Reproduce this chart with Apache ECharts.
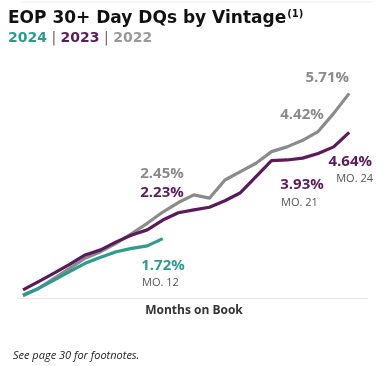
<!DOCTYPE html>
<html><head><meta charset="utf-8">
<script src="https://cdn.jsdelivr.net/npm/echarts@6/dist/echarts.min.js"></script>
<style>html,body{margin:0;padding:0;background:#fff}#c{width:387px;height:366px}</style>
</head><body><div id="c"></div>
<script>
const months = [3,4,5,6,7,8,9,10,11,12,13,14,15,16,17,18,19,20,21,22,23,24];
const v2024 = [0.17,0.35,0.58,0.81,1.04,1.21,1.36,1.45,1.52,1.72];
const v2023 = [0.31,0.54,0.77,1.01,1.27,1.41,1.63,1.82,1.96,2.23,2.43,2.51,2.58,2.76,2.98,3.42,3.86,3.88,3.93,4.06,4.24,4.64];
const v2022 = [0.15,0.35,0.63,0.90,1.18,1.36,1.59,1.86,2.14,2.45,2.71,2.92,2.83,3.33,3.56,3.79,4.11,4.24,4.42,4.66,5.16,5.71];
const vintages = ['2024','2023','2022'];
const colors = {'2024':'#2b9c8d','2023':'#5b1a5c','2022':'#8b8b8b'};
const FONT = 'Open Sans';
const TFONT = 'DejaVu Sans';

const chart = echarts.init(document.getElementById('c'), null, {renderer:'canvas'});
const pct = v => v.toFixed(2) + '%';
function txt(x, y, text, color, size, weight, align, style) {
  return {type:'text', x, y, style:{text, fill:color, font:(style||'normal')+' '+(weight||'normal')+' '+size+'px "'+FONT+'"', textAlign:align||'left', textVerticalAlign:'middle'}};
}
chart.setOption({
  animation:false,
  grid:{left:23, right:37.8, top:82.8, bottom:64.8},
  xAxis:{type:'category', data:months, boundaryGap:false, axisLine:{show:false}, axisTick:{show:false}, axisLabel:{show:false}},
  yAxis:{type:'value', min:0, max:6, show:false, splitLine:{show:false}},
  series:[
    {name:'2022', type:'line', data:v2022, symbol:'none', lineStyle:{color:colors['2022'], width:3.2}, z:2},
    {name:'2023', type:'line', data:v2023, symbol:'none', lineStyle:{color:colors['2023'], width:3.2}, z:3},
    {name:'2024', type:'line', data:v2024, symbol:'none', lineStyle:{color:colors['2024'], width:3.2}, z:4}
  ],
  graphic:[
    {type:'line', shape:{x1:22, y1:2, x2:372, y2:2}, style:{stroke:'#ededed', lineWidth:1}},
    {type:'line', shape:{x1:17, y1:298.5, x2:368, y2:298.5}, style:{stroke:'#e6e6e6', lineWidth:1}},
    {type:'text', x:8, y:19, style:{rich:{a:{font:'bold 17px "'+TFONT+'"', fill:'#111'}, s:{font:'bold 10px "'+TFONT+'"', fill:'#111', padding:[0,0,9,1]}}, text:'{a|EOP 30+ Day DQs by Vintage}{s|(1)}', textVerticalAlign:'middle'}},
    {type:'text', x:8, y:38, style:{rich:{
        a:{font:'bold 14px "'+TFONT+'"', fill:colors['2024']},
        b:{font:'bold 14px "'+TFONT+'"', fill:colors['2023']},
        c:{font:'bold 14px "'+TFONT+'"', fill:'#999'},
        p:{font:'normal 14px "'+TFONT+'"', fill:'#666'}},
      text:'{a|'+vintages[0]+'}{p| | }{b|'+vintages[1]+'}{p| | }{c|'+vintages[2]+'}', textVerticalAlign:'middle'}},
    txt(349, 78, pct(v2022[21]), colors['2022'], 15, 'bold', 'right'),
    txt(302, 115, pct(v2022[18]), colors['2022'], 15, 'bold', 'center'),
    txt(162, 174, pct(v2022[9]), colors['2022'], 15, 'bold', 'center'),
    txt(162, 192.5, pct(v2023[9]), colors['2023'], 15, 'bold', 'center'),
    txt(163, 265.5, pct(v2024[9]), colors['2024'], 15, 'bold', 'center'),
    txt(142, 282.5, 'MO. 12', '#555', 11, 'normal', 'left'),
    txt(302, 185, pct(v2023[18]), colors['2023'], 15, 'bold', 'center'),
    txt(281, 203, 'MO. 21', '#555', 11, 'normal', 'left'),
    txt(372, 162, pct(v2023[21]), colors['2023'], 15, 'bold', 'right'),
    txt(373, 179, 'MO. 24', '#555', 11, 'normal', 'right'),
    txt(194, 311, 'Months on Book', '#333', 12, 'bold', 'center'),
    txt(13, 355.5, 'See page 30 for footnotes.', '#222', 11, 'normal', 'left', 'italic')
  ]
});
</script></body></html>
